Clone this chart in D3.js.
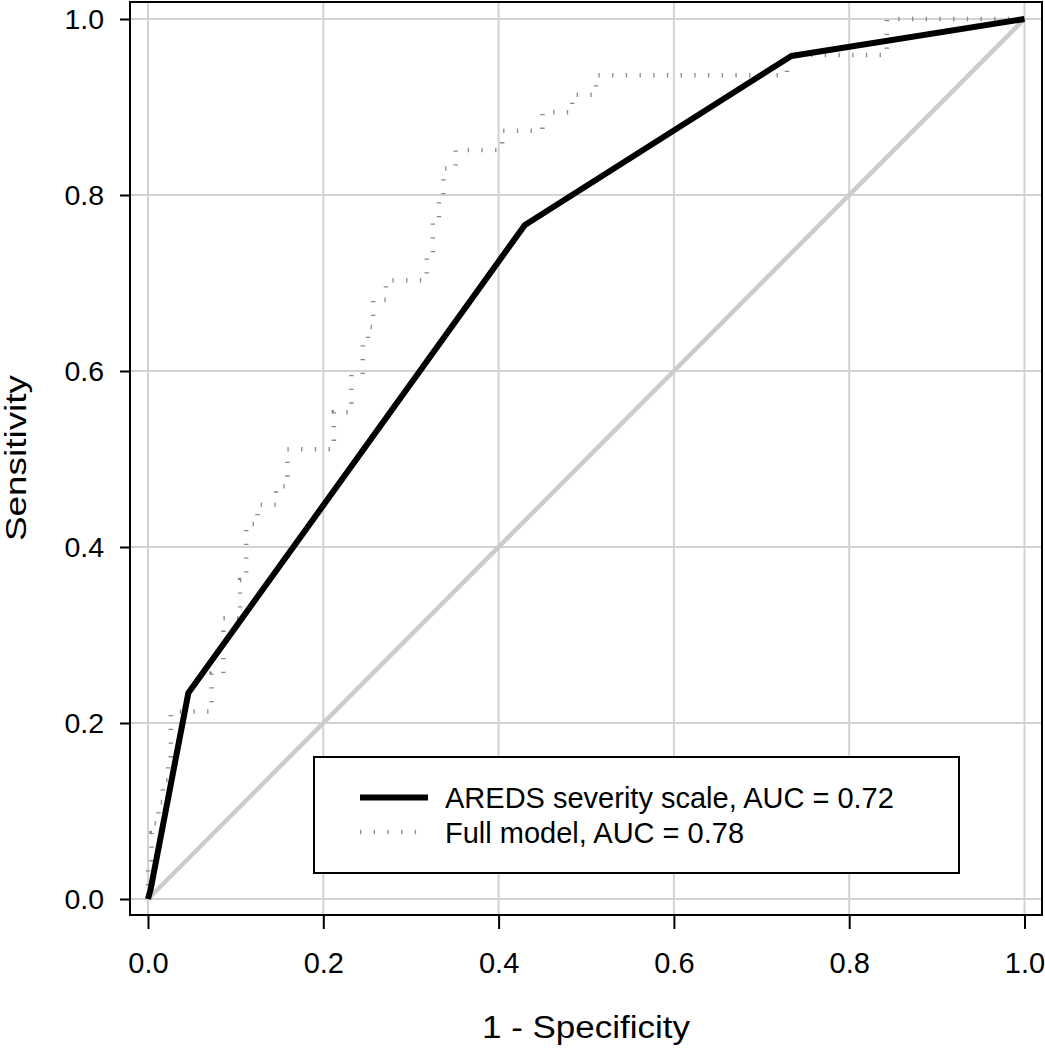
<!DOCTYPE html>
<html>
<head>
<meta charset="utf-8">
<script src="https://cdn.jsdelivr.net/npm/d3@7"></script>
<style>
  html, body { margin: 0; padding: 0; background: #fff; }
  svg { display: block; font-family: "Liberation Sans", Arial, sans-serif; }
</style>
</head>
<body>
<svg id="chart" width="1045" height="1050"></svg>
<script>
// ---- data ----
const tickValues = [0.0, 0.2, 0.4, 0.6, 0.8, 1.0];
const tickLabels = ["0.0", "0.2", "0.4", "0.6", "0.8", "1.0"];

// AREDS severity scale ROC (1 - specificity, sensitivity)
const aredsFpr = [0, 0.003, 0.046, 0.430, 0.734, 1.0];
const aredsTpr = [0, 0.011, 0.234, 0.766, 0.958, 1.0];

// Full model ROC (step points; vertical rise happens before horizontal run)
const fullFpr = [0, 0.004, 0.006, 0.012, 0.017, 0.023, 0.026, 0.0725, 0.086, 0.105, 0.112, 0.125, 0.146, 0.159, 0.212, 0.232, 0.245, 0.251, 0.257, 0.2715, 0.318, 0.325, 0.332, 0.337, 0.351, 0.404, 0.450, 0.484, 0.511, 0.729, 0.843, 1.0];
const fullTpr = [0, 0.040, 0.075, 0.086, 0.110, 0.135, 0.160, 0.213, 0.256, 0.319, 0.3625, 0.426, 0.448, 0.469, 0.511, 0.553, 0.596, 0.630, 0.650, 0.681, 0.703, 0.729, 0.770, 0.800, 0.830, 0.851, 0.873, 0.894, 0.914, 0.936, 0.959, 1.0];

const legendLabels = ["AREDS severity scale, AUC = 0.72", "Full model, AUC = 0.78"];
const xTitle = "1 - Specificity";
const yTitle = "Sensitivity";

// ---- layout ----
const svg = d3.select("#chart");
const x = d3.scaleLinear().domain([0, 1]).range([148, 1024.5]);
const y = d3.scaleLinear().domain([0, 1]).range([899, 19]);
const box = { x0: 130, x1: 1042, y0: 2, y1: 915 };

// grid
const grid = svg.append("g");
tickValues.forEach(v => {
  grid.append("line").attr("x1", x(v)).attr("x2", x(v)).attr("y1", box.y0).attr("y2", box.y1)
    .attr("stroke", "#d2d2d2").attr("stroke-width", 2);
  grid.append("line").attr("y1", y(v)).attr("y2", y(v)).attr("x1", box.x0).attr("x2", box.x1)
    .attr("stroke", "#d2d2d2").attr("stroke-width", 2);
});

// diagonal reference
svg.append("line").attr("x1", x(0)).attr("y1", y(0)).attr("x2", x(1)).attr("y2", y(1))
  .attr("stroke", "#cccccc").attr("stroke-width", 4.5);

// full model (dotted step line)
const fullData = fullFpr.map((f, i) => [f, fullTpr[i]]);
svg.append("path").datum(fullData)
  .attr("d", d3.line().x(d => x(d[0])).y(d => y(d[1])).curve(d3.curveStepBefore))
  .attr("fill", "none").attr("stroke", "#8a8a8a").attr("stroke-width", 4.5)
  .attr("stroke-dasharray", "1.3,12.4");

// AREDS solid line
const aredsData = aredsFpr.map((f, i) => [f, aredsTpr[i]]);
svg.append("path").datum(aredsData)
  .attr("d", d3.line().x(d => x(d[0])).y(d => y(d[1])))
  .attr("fill", "none").attr("stroke", "#000").attr("stroke-width", 6)
  .attr("stroke-linejoin", "round");

// plot box
svg.append("rect").attr("x", box.x0).attr("y", box.y0)
  .attr("width", box.x1 - box.x0).attr("height", box.y1 - box.y0)
  .attr("fill", "none").attr("stroke", "#000").attr("stroke-width", 2);

// axes
const xAxis = d3.axisBottom(x).tickValues(tickValues).tickFormat((d, i) => tickLabels[i])
  .tickSize(14).tickPadding(23);
const gx = svg.append("g").attr("transform", `translate(0,${box.y1})`).call(xAxis);
gx.select(".domain").remove();
gx.selectAll(".tick line").attr("stroke", "#000").attr("stroke-width", 2);
gx.selectAll(".tick text").attr("font-size", 29).attr("fill", "#000")
  .attr("font-family", "'Liberation Sans', Arial, sans-serif");

const yAxis = d3.axisLeft(y).tickValues(tickValues).tickFormat((d, i) => tickLabels[i])
  .tickSize(10).tickPadding(16);
const gy = svg.append("g").attr("transform", `translate(${box.x0},0)`).call(yAxis);
gy.select(".domain").remove();
gy.selectAll(".tick line").attr("stroke", "#000").attr("stroke-width", 2);
gy.selectAll(".tick text").attr("font-size", 28.5).attr("fill", "#000")
  .attr("font-family", "'Liberation Sans', Arial, sans-serif");

// axis titles
svg.append("text").attr("x", 586).attr("y", 1038).attr("text-anchor", "middle")
  .attr("font-size", 31).attr("textLength", 208).attr("lengthAdjust", "spacingAndGlyphs")
  .text(xTitle);
svg.append("text").attr("transform", "translate(26,458) rotate(-90)").attr("text-anchor", "middle")
  .attr("font-size", 30).attr("textLength", 166).attr("lengthAdjust", "spacingAndGlyphs")
  .text(yTitle);

// legend
const lg = svg.append("g");
lg.append("rect").attr("x", 314).attr("y", 757).attr("width", 645).attr("height", 116)
  .attr("fill", "#fff").attr("stroke", "#000").attr("stroke-width", 2);
lg.append("line").attr("x1", 360).attr("x2", 428).attr("y1", 797.5).attr("y2", 797.5)
  .attr("stroke", "#000").attr("stroke-width", 6);
lg.append("line").attr("x1", 360).attr("x2", 428).attr("y1", 832).attr("y2", 832)
  .attr("stroke", "#8a8a8a").attr("stroke-width", 4.5).attr("stroke-dasharray", "1.3,12.4");
lg.append("text").attr("x", 445).attr("y", 808).attr("font-size", 29).text(legendLabels[0]);
lg.append("text").attr("x", 445).attr("y", 843).attr("font-size", 29).text(legendLabels[1]);
</script>
</body>
</html>
